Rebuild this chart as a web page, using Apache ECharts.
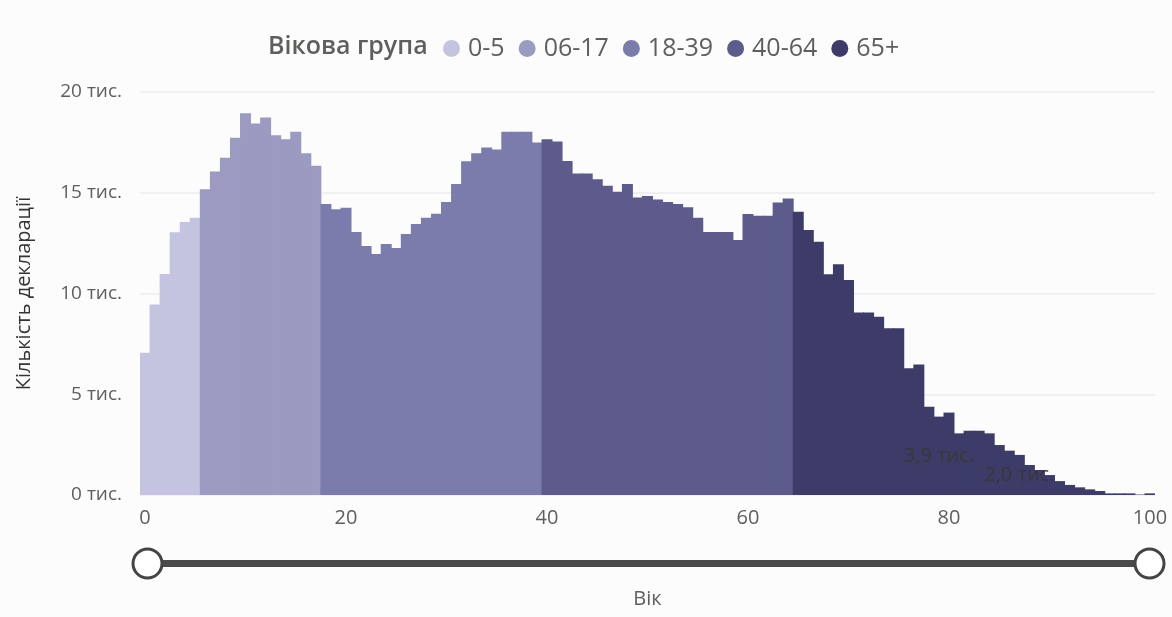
<!DOCTYPE html>
<html>
<head>
<meta charset="utf-8">
<script src="https://cdn.jsdelivr.net/npm/echarts@6/dist/echarts.min.js"></script>
<style>
html,body{margin:0;padding:0;background:#ffffff;}
#chart{width:1172px;height:617px;}
</style>
</head>
<body>
<div id="chart"></div>
<script>
// Ages 0..100
const ages = Array.from({length: 101}, (_, i) => i);
// Number of declarations per age
const counts = [
  7060, 9460, 10970, 13040, 13550, 13760,
  15170, 16060, 16740, 17730, 18940, 18440, 18730, 17850, 17650, 18030, 16960, 16340,
  14440, 14180, 14260, 13050, 12360, 11960, 12460, 12260, 12950, 13450, 13760, 13960,
  14540, 15430, 16560, 16960, 17240, 17150, 18030, 18030, 18030, 17490,
  17650, 17540, 16580, 15960, 15960, 15670, 15350, 15050, 15430, 14760, 14840, 14660,
  14540, 14440, 14280, 13760, 13050, 13050, 13050, 12660, 13950, 13860, 13860, 14520, 14720,
  14060, 13150, 12570, 10950, 11450, 10670, 9060, 9060, 8850, 8270, 8270, 6290, 6480,
  4380, 3890, 4090, 3060, 3190, 3190, 3060, 2480, 2200, 1990, 1490, 1240, 990, 690,
  500, 380, 280, 200, 80, 80, 80, 20, 80
];
const groups = ['0-5', '06-17', '18-39', '40-64', '65+'];
const groupStarts = [0, 6, 18, 40, 65];
const groupColors = ['#C5C4E0', '#9B9AC0', '#7C7CAC', '#5C5B8B', '#3D3C69'];
const labeledAges = [79, 87];
const yTicks = [0, 5000, 10000, 15000, 20000];

const FONT = '"Segoe UI", "Open Sans", "Noto Sans", sans-serif';

function groupOf(age) {
  let g = 0;
  for (let i = 0; i < groupStarts.length; i++) if (age >= groupStarts[i]) g = i;
  return g;
}
function fmtK(v) {
  return (v / 1000).toFixed(1).replace('.', ',') + ' тис.';
}

const series = groups.map((name, gi) => ({
  name: name,
  type: 'bar',
  stack: 'all',
  barWidth: 11,
  itemStyle: { color: groupColors[gi], borderWidth: 0 },
  emphasis: { disabled: true },
  data: ages.map((a, i) => {
    if (groupOf(a) !== gi) return '-';
    if (labeledAges.indexOf(a) >= 0) {
      return {
        value: counts[i],
        label: {
          show: true, position: 'inside', formatter: p => fmtK(p.value),
          color: '#383838', fontSize: 20, fontFamily: FONT
        }
      };
    }
    return counts[i];
  })
}));

const chart = echarts.init(document.getElementById('chart'), null, { renderer: 'canvas' });
chart.setOption({
  backgroundColor: '#fcfcfc',
  animation: false,
  title: {
    text: 'Вікова група',
    left: 263, top: 29,
    textStyle: { fontFamily: FONT, fontSize: 25, fontWeight: 600, color: '#605E5C' }
  },
  legend: {
    data: groups,
    left: 438, top: 31,
    icon: 'circle',
    itemWidth: 17, itemHeight: 17,
    itemGap: 14,
    textStyle: { fontFamily: FONT, fontSize: 25, color: '#605E5C', padding: [0, 0, 0, 3] }
  },
  grid: { left: 140, right: 17, top: 92, bottom: 122 },
  xAxis: {
    type: 'category',
    data: ages,
    name: 'Вік',
    nameLocation: 'middle',
    nameGap: 94,
    nameTextStyle: { fontFamily: FONT, fontSize: 20, color: '#605E5C' },
    axisLine: { show: false },
    axisTick: { show: false },
    axisLabel: {
      interval: 19, margin: 13,
      fontFamily: FONT, fontSize: 20, color: '#605E5C'
    }
  },
  yAxis: {
    type: 'value',
    min: yTicks[0], max: yTicks[yTicks.length - 1], interval: 5000,
    name: 'Кількість декларації',
    nameLocation: 'middle',
    nameGap: 106,
    nameTextStyle: { fontFamily: FONT, fontSize: 20, color: '#333333' },
    axisLabel: {
      margin: 18,
      formatter: v => (v / 1000) + ' тис.',
      fontFamily: FONT, fontSize: 19, color: '#605E5C'
    },
    splitLine: { lineStyle: { color: '#ececec', width: 1.5 } }
  },
  dataZoom: [{
    type: 'slider',
    xAxisIndex: 0,
    start: 0, end: 100,
    left: 144, right: 24, top: 560, height: 7,
    backgroundColor: '#4a4a4a',
    fillerColor: '#4a4a4a',
    borderColor: 'transparent',
    borderRadius: 0,
    showDetail: false,
    showDataShadow: false,
    brushSelect: false,
    moveHandleSize: 0,
    handleIcon: 'circle',
    handleSize: 29,
    handleStyle: { color: '#ffffff', borderColor: '#444444', borderWidth: 3 },
    dataBackground: { lineStyle: { opacity: 0 }, areaStyle: { opacity: 0 } },
    selectedDataBackground: { lineStyle: { opacity: 0 }, areaStyle: { opacity: 0 } },
    emphasis: { handleStyle: { color: '#ffffff', borderColor: '#444444', borderWidth: 3 } }
  }],
  series: series
});
</script>
</body>
</html>
